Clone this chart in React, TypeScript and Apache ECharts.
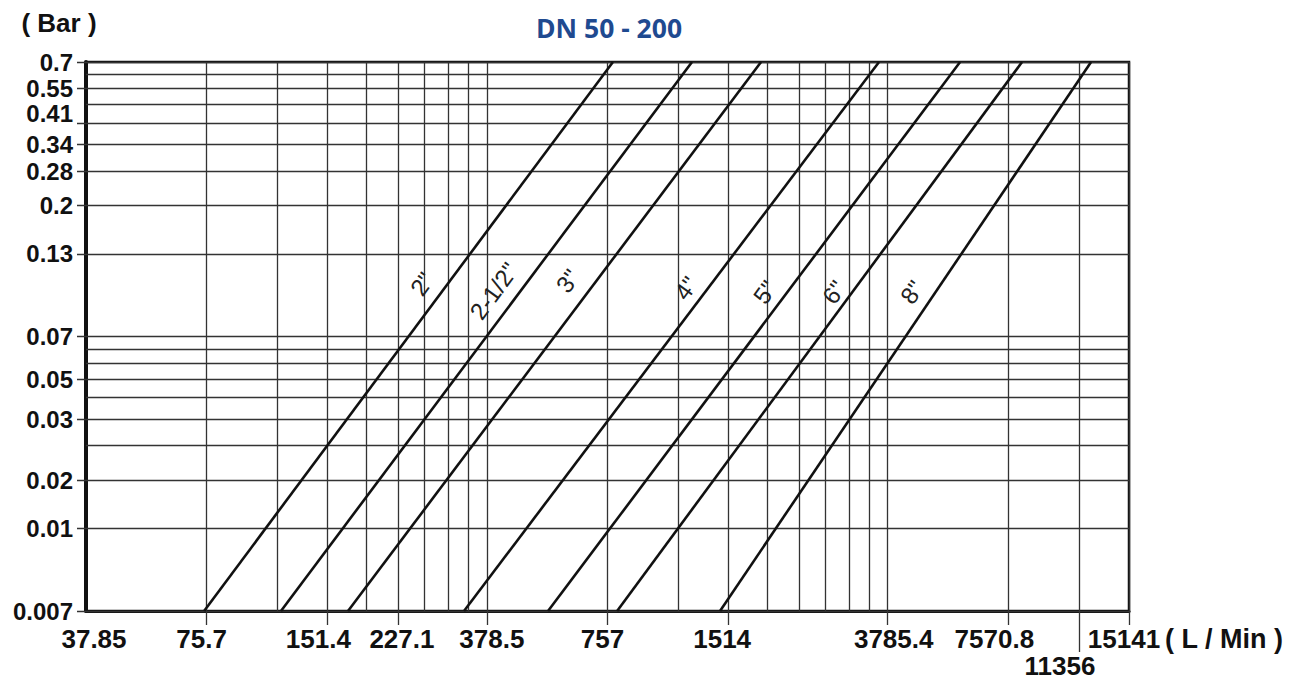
import React, { useEffect, useRef } from "react";
import * as echarts from "echarts";

// ---------- data ----------
const pipeSizes = ['2"', '2-1/2"', '3"', '4"', '5"', '6"', '8"'];
// flow (L/min) at the lowest and highest pressure drop of each curve
const flowAtLowDrop = [74.6, 116, 170.5, 332, 538, 800, 1445];
const flowAtHighDrop = [781, 1230, 1829, 3602, 5738, 8191, 12177];
const dropRange = [0.007, 0.7]; // bar
// where the size names sit (L/min, bar)
const sizeLabelFlow = [260.8, 394, 603, 1189, 1871, 2782, 4353];
const sizeLabelDrop = [0.1088, 0.1025, 0.1115, 0.105, 0.1016, 0.1016, 0.1016];

// x axis (L/min)
const xMin = 37.85;
const xMax = 15141;
const xTickValues = [37.85, 75.7, 151.4, 227.1, 378.5, 757, 1514, 3785.4, 7570.8, 11356, 15141];
const xTickLabels = ["37.85", "75.7", "151.4", "227.1", "378.5", "757", "1514", "3785.4", "7570.8", "11356", "15141"];
const xMinorGrid = [113.55, 189.25, 264.95, 302.8, 340.65, 1135.5, 1892.7, 2271.2, 2649.8, 3028.3, 3406.9];

// y axis (bar)
const yMin = 0.007;
const yMax = 0.7;
const yTickValues = [0.7, 0.56, 0.42, 0.35, 0.28, 0.21, 0.14, 0.07, 0.049, 0.035, 0.021, 0.014, 0.007];
const yTickLabels = ["0.7", "0.55", "0.41", "0.34", "0.28", "0.2", "0.13", "0.07", "0.05", "0.03", "0.02", "0.01", "0.007"];
const yMinorGrid = [0.63, 0.49, 0.063, 0.056, 0.042, 0.028];

// ---------- style ----------
const FONT = "'Liberation Sans', Arial, sans-serif";
const xLabelShift = [8, -5, -9, 4, 5, -5, -6, 6, -14, -19, -5];
const xLabelLowered = [false, false, false, false, false, false, false, false, false, true, false];
const yLabelAbove = [false, false, true, false, false, false, false, false, false, false, false, false, false];

export default function App() {
  const ref = useRef<HTMLDivElement>(null);

  useEffect(() => {
    const chart = echarts.init(ref.current!, null, { renderer: "svg" });
    const gridLine = { color: "#333", width: 1.3, type: "solid" };
    const labelBase = {
      show: true,
      fontFamily: FONT,
      fontWeight: "bold",
      color: "#111",
    };

    const markLineData: any[] = [];
    // labelled vertical lines (with tick extension + label)
    xTickValues.forEach((v, i) => {
      const s = xLabelShift[i];
      markLineData.push([
        {
          xAxis: v,
          y: xLabelLowered[i] ? 652 : 625,
          lineStyle: i === 0 ? { width: 0 } : undefined,
          label: {
            ...labelBase,
            formatter: xTickLabels[i],
            position: "start",
            distance: 2,
            fontSize: 26,
            lineHeight: 24,
            align: "center",
            verticalAlign: "top",
            padding: s >= 0 ? [0, 0, 0, 2 * s] : [0, -2 * s, 0, 0],
          },
        },
        { xAxis: v, yAxis: yMax },
      ]);
    });
    xMinorGrid.forEach((v) => {
      markLineData.push([
        { xAxis: v, yAxis: yMin },
        { xAxis: v, yAxis: yMax },
      ]);
    });
    yTickValues.forEach((v, i) => {
      markLineData.push([
        {
          x: 77,
          yAxis: v,
          label: {
            ...labelBase,
            formatter: yTickLabels[i],
            position: "start",
            distance: 4,
            fontSize: 24,
            lineHeight: 19,
            align: "right",
            verticalAlign: yLabelAbove[i] ? "bottom" : "middle",
          },
        },
        { xAxis: xMax, yAxis: v },
      ]);
    });
    yMinorGrid.forEach((v) => {
      markLineData.push([
        { xAxis: xMin, yAxis: v },
        { xAxis: xMax, yAxis: v },
      ]);
    });

    const series: any[] = pipeSizes.map((name, i) => ({
      type: "line",
      name,
      data: [
        [flowAtLowDrop[i], dropRange[0]],
        [flowAtHighDrop[i], dropRange[1]],
      ],
      symbol: "none",
      silent: true,
      z: 5,
      lineStyle: { color: "#111", width: 2.6 },
      markPoint: {
        symbol: "circle",
        symbolSize: 0,
        silent: true,
        data: [
          {
            coord: [sizeLabelFlow[i], sizeLabelDrop[i]],
            label: {
              show: true,
              formatter: name,
              position: "inside",
              rotate: 54,
              fontFamily: FONT,
              fontSize: 24,
              color: "#222",
            },
          },
        ],
      },
    }));

    series[0].markLine = {
      silent: true,
      symbol: ["none", "none"],
      lineStyle: gridLine,
      label: { show: false },
      emphasis: { disabled: true },
      data: markLineData,
    };

    chart.setOption({
      animation: false,
      backgroundColor: "#fff",
      title: {
        text: "DN 50 - 200",
        left: 604,
        top: 9,
        textAlign: "center",
        textStyle: {
          color: "#1F4A90",
          fontFamily: "'Open Sans', sans-serif",
          fontWeight: "bold",
          fontSize: 26.5,
        },
      },
      grid: {
        left: 86,
        right: 167,
        top: 62,
        bottom: 71,
        show: true,
        borderColor: "#111",
        borderWidth: 2.5,
        backgroundColor: "transparent",
      },
      xAxis: {
        type: "log",
        logBase: 10,
        min: xMin,
        max: xMax,
        axisLine: { show: true, lineStyle: { color: "#111", width: 3 } },
        axisTick: { show: false },
        axisLabel: { show: false },
        splitLine: { show: false },
        minorTick: { show: false },
        minorSplitLine: { show: false },
        name: "( L / Min )",
        nameLocation: "end",
        nameGap: 36,
        nameTextStyle: {
          fontFamily: FONT,
          fontWeight: "bold",
          fontSize: 27,
          lineHeight: 24,
          color: "#111",
          align: "left",
          verticalAlign: "top",
          padding: [16, 0, 0, 0],
        },
      },
      yAxis: {
        type: "log",
        logBase: 10,
        min: yMin,
        max: yMax,
        axisLine: { show: true, lineStyle: { color: "#111", width: 4 } },
        axisTick: { show: false },
        axisLabel: { show: false },
        splitLine: { show: false },
        minorTick: { show: false },
        minorSplitLine: { show: false },
        name: "( Bar )",
        nameLocation: "end",
        nameGap: 26,
        nameTextStyle: {
          fontFamily: FONT,
          fontWeight: "bold",
          fontSize: 26,
          color: "#111",
          align: "center",
          verticalAlign: "bottom",
          padding: [0, 54, 0, 0],
        },
      },
      series,
    });

    return () => chart.dispose();
  }, []);

  return (
    <div
      ref={ref}
      style={{ position: "absolute", left: 0, top: 0, width: 1296, height: 682 }}
    />
  );
}
